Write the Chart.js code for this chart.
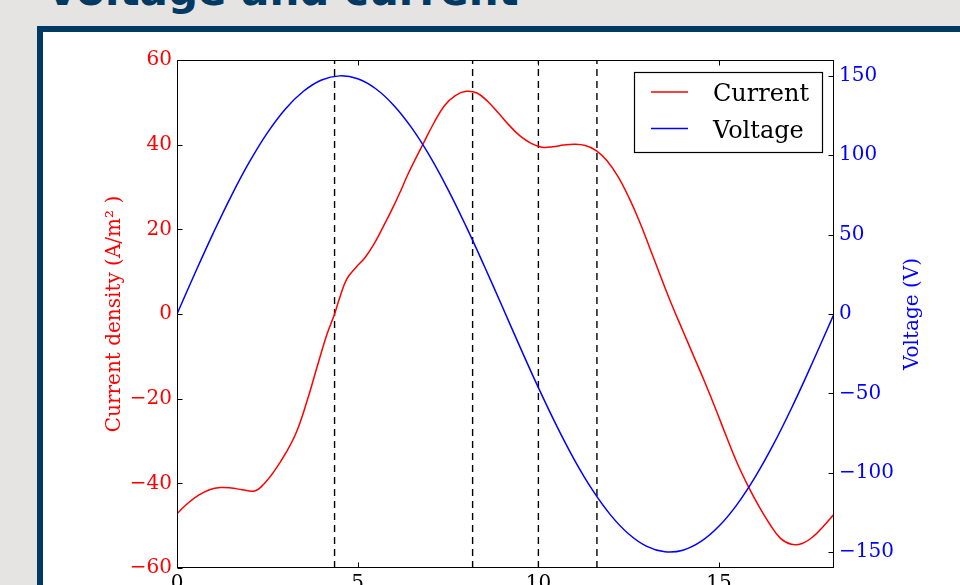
<!DOCTYPE html>
<html>
<head>
<meta charset="utf-8">
<script src="https://cdn.jsdelivr.net/npm/chart.js@4.4.1/dist/chart.umd.min.js"></script>
<style>
  html, body { margin: 0; padding: 0; }
  body { width: 960px; height: 585px; overflow: hidden; background: #e5e4e2; position: relative; }
  #heading { position: absolute; left: 0; top: 0; }
  #frame { position: absolute; left: 37px; top: 26px; width: 1000px; height: 700px;
           border: 6px solid #003a63; background: #ffffff; }
  #chart { position: absolute; left: 0; top: 0; }
</style>
</head>
<body>
<svg id="heading" width="960" height="26">
  <text x="46" y="5" font-family="DejaVu Sans" font-weight="bold" font-size="42" fill="#003a63">Voltage and current</text>
</svg>
<div id="frame"></div>
<canvas id="chart" width="960" height="585"></canvas>
<script>
// Current density samples over one mains period (time in ms, A/m²)
const currentTime = [0.0, 0.3, 0.6, 0.9, 1.2, 1.5, 1.8, 2.15, 2.4, 2.7, 3.0, 3.3, 3.6, 3.9, 4.15,
  4.36, 4.5, 4.7, 4.95, 5.2, 5.45, 5.7, 6.0, 6.2, 6.4, 6.8, 7.1, 7.4, 7.7, 8.0, 8.3, 8.6, 8.9, 9.2,
  9.5, 9.8, 10.1, 10.4, 10.7, 11.0, 11.3, 11.6, 11.9, 12.2, 12.5, 12.8, 13.1, 13.4, 13.7, 14.0,
  14.3, 14.6, 14.9, 15.2, 15.5, 15.8, 16.1, 16.4, 16.7, 17.0, 17.3, 17.6, 17.9, 18.18];
const currentDensity = [-47.2, -44.7, -42.8, -41.5, -41.0, -41.1, -41.5, -41.8, -40.2, -37.0, -33.0,
  -28.0, -20.5, -11.8, -4.8, 0.0, 3.8, 8.3, 11.0, 13.3, 16.5, 20.5, 25.6, 29.3, 33.2, 40.0, 45.0,
  49.2, 51.6, 52.6, 52.2, 50.2, 47.4, 44.5, 42.0, 40.3, 39.4, 39.5, 39.9, 40.1, 39.8, 38.6, 36.2,
  32.5, 27.6, 21.8, 15.2, 8.5, 2.0, -4.0, -10.0, -16.0, -22.3, -28.9, -35.2, -40.6, -45.4, -49.6,
  -53.0, -54.4, -54.2, -52.6, -50.0, -47.3];

// Supply voltage samples (time in ms, V)
const voltageTime = [0.0, 0.5, 1.0, 1.5, 2.0, 2.5, 3.0, 3.5, 4.0, 4.5, 5.0, 5.5, 6.0, 6.5, 7.0, 7.5,
  8.0, 8.5, 9.0, 9.5, 10.0, 10.5, 11.0, 11.5, 12.0, 12.5, 13.0, 13.5, 14.0, 14.5, 15.0, 15.5, 16.0,
  16.5, 17.0, 17.5, 18.0, 18.18];
const voltage = [0.0, 25.8, 50.8, 74.3, 95.6, 114.1, 129.2, 140.3, 147.4, 150.0, 148.2, 141.9, 131.4,
  117.1, 99.3, 78.4, 55.2, 30.4, 4.7, -21.2, -46.4, -70.2, -92.0, -111.0, -126.7, -138.6, -146.4,
  -149.8, -148.8, -143.3, -133.6, -119.9, -102.6, -82.3, -59.5, -34.9, -9.3, 0.0];

// Instants marked with vertical dashed lines (ms)
const markerTimes = [4.36, 8.18, 10.0, 11.62];

// Axis ticks and texts
const timeTicks = [0, 5, 10, 15];
const currentTicks = [-60, -40, -20, 0, 20, 40, 60];
const voltageTicks = [-150, -100, -50, 0, 50, 100, 150];
const seriesLabels = ['Current', 'Voltage'];
const currentAxisTitle = 'Current density (A/m\u00B2 )';
const voltageAxisTitle = 'Voltage (V)';

const SERIF = '"DejaVu Serif", serif';
const RED = '#ff0000';
const BLUE = '#0000ff';
const fmt = v => (v < 0 ? '\u2212' + Math.abs(v) : String(v));
const toPoints = (xs, ys) => xs.map((x, i) => ({ x: x, y: ys[i] }));

const datasets = [
  { label: seriesLabels[1], data: toPoints(voltageTime, voltage), yAxisID: 'y1',
    borderColor: BLUE, borderWidth: 1.5, pointRadius: 0, tension: 0.4, order: 0 },
  { label: seriesLabels[0], data: toPoints(currentTime, currentDensity), yAxisID: 'y',
    borderColor: RED, borderWidth: 1.5, pointRadius: 0, tension: 0.4, order: 1 }
];
markerTimes.forEach(t => datasets.push({
  label: '', data: [{ x: t, y: currentTicks[0] }, { x: t, y: currentTicks[currentTicks.length - 1] }],
  yAxisID: 'y', borderColor: '#000', borderWidth: 1.4, borderDash: [7, 5], pointRadius: 0, order: 2,
  isMarker: true
}));

// Spines, inward ticks, right-hand axis title and boxed legend
const axesDecor = {
  id: 'axesDecor',
  afterDatasetsDraw(chart) {
    const { ctx, chartArea: a, scales } = chart;
    ctx.save();
    ctx.strokeStyle = '#000';
    ctx.lineWidth = 1;
    const L = Math.round(a.left) + 0.5, R = Math.round(a.right) - 0.5;
    const T = Math.round(a.top) + 0.5, B = Math.round(a.bottom) - 0.5;
    ctx.strokeRect(L, T, R - L, B - T);
    const tl = 5;
    ctx.beginPath();
    timeTicks.forEach(v => {
      const x = Math.round(scales.x.getPixelForValue(v)) + 0.5;
      ctx.moveTo(x, B); ctx.lineTo(x, B - tl);
      ctx.moveTo(x, T); ctx.lineTo(x, T + tl);
    });
    currentTicks.forEach(v => {
      const y = Math.round(scales.y.getPixelForValue(v)) + 0.5;
      ctx.moveTo(L, y); ctx.lineTo(L + tl, y);
    });
    voltageTicks.forEach(v => {
      const y = Math.round(scales.y1.getPixelForValue(v)) + 0.5;
      ctx.moveTo(R, y); ctx.lineTo(R - tl, y);
    });
    ctx.stroke();

    // right axis title, reading upwards
    ctx.save();
    ctx.translate(918, (a.top + a.bottom) / 2);
    ctx.rotate(-Math.PI / 2);
    ctx.font = '20px ' + SERIF;
    ctx.fillStyle = BLUE;
    ctx.textAlign = 'center';
    ctx.textBaseline = 'alphabetic';
    ctx.fillText(voltageAxisTitle, 0, 0);
    ctx.restore();

    // legend box in the upper right corner of the plot
    const bx = a.right - 200, by = a.top + 12, bw = 188, bh = 80;
    ctx.fillStyle = '#fff';
    ctx.fillRect(bx, by, bw, bh);
    ctx.strokeStyle = '#000';
    ctx.lineWidth = 1.2;
    ctx.strokeRect(Math.round(bx) + 0.5, Math.round(by) + 0.5, bw, bh);
    const entries = chart.data.datasets.filter(d => !d.isMarker)
      .sort((p, q) => seriesLabels.indexOf(p.label) - seriesLabels.indexOf(q.label));
    ctx.font = '24px ' + SERIF;
    ctx.textAlign = 'left';
    ctx.textBaseline = 'alphabetic';
    entries.forEach((d, i) => {
      const ly = by + 20 + i * 36.5;
      ctx.strokeStyle = d.borderColor;
      ctx.lineWidth = 1.5;
      ctx.beginPath();
      ctx.moveTo(bx + 17, ly); ctx.lineTo(bx + 54, ly);
      ctx.stroke();
      ctx.fillStyle = '#000';
      ctx.fillText(d.label, bx + 79, ly + 9);
    });
    ctx.restore();
  }
};

new Chart(document.getElementById('chart'), {
  type: 'line',
  data: { datasets: datasets },
  plugins: [axesDecor],
  options: {
    responsive: false,
    animation: false,
    devicePixelRatio: 1,
    events: [],
    layout: { padding: { left: 0, right: 0, top: 60, bottom: 0 } },
    plugins: { legend: { display: false }, tooltip: { enabled: false } },
    scales: {
      x: {
        type: 'linear', min: 0, max: 18.18,
        afterBuildTicks: s => { s.ticks = timeTicks.map(v => ({ value: v })); },
        afterFit: s => { s.height = 17; },
        grid: { display: false, drawTicks: false },
        border: { display: false },
        ticks: { color: '#000', font: { family: SERIF, size: 20 }, padding: 4, maxRotation: 0,
                 callback: v => fmt(v) }
      },
      y: {
        position: 'left', min: -60, max: 60,
        afterBuildTicks: s => { s.ticks = currentTicks.map(v => ({ value: v })); },
        afterFit: s => { s.width = 177; },
        grid: { display: false, drawTicks: false },
        border: { display: false },
        ticks: { color: RED, font: { family: SERIF, size: 20 }, padding: 5, callback: v => fmt(v) },
        title: { display: true, text: currentAxisTitle, color: RED,
                 font: { family: SERIF, size: 20 }, padding: { top: 103, bottom: 0 } }
      },
      y1: {
        position: 'right', min: -160, max: 160,
        afterBuildTicks: s => { s.ticks = voltageTicks.map(v => ({ value: v })); },
        afterFit: s => { s.width = 126; },
        grid: { display: false, drawTicks: false },
        border: { display: false },
        ticks: { color: BLUE, font: { family: SERIF, size: 20 }, padding: 5, callback: v => fmt(v) }
      }
    }
  }
});
</script>
</body>
</html>
